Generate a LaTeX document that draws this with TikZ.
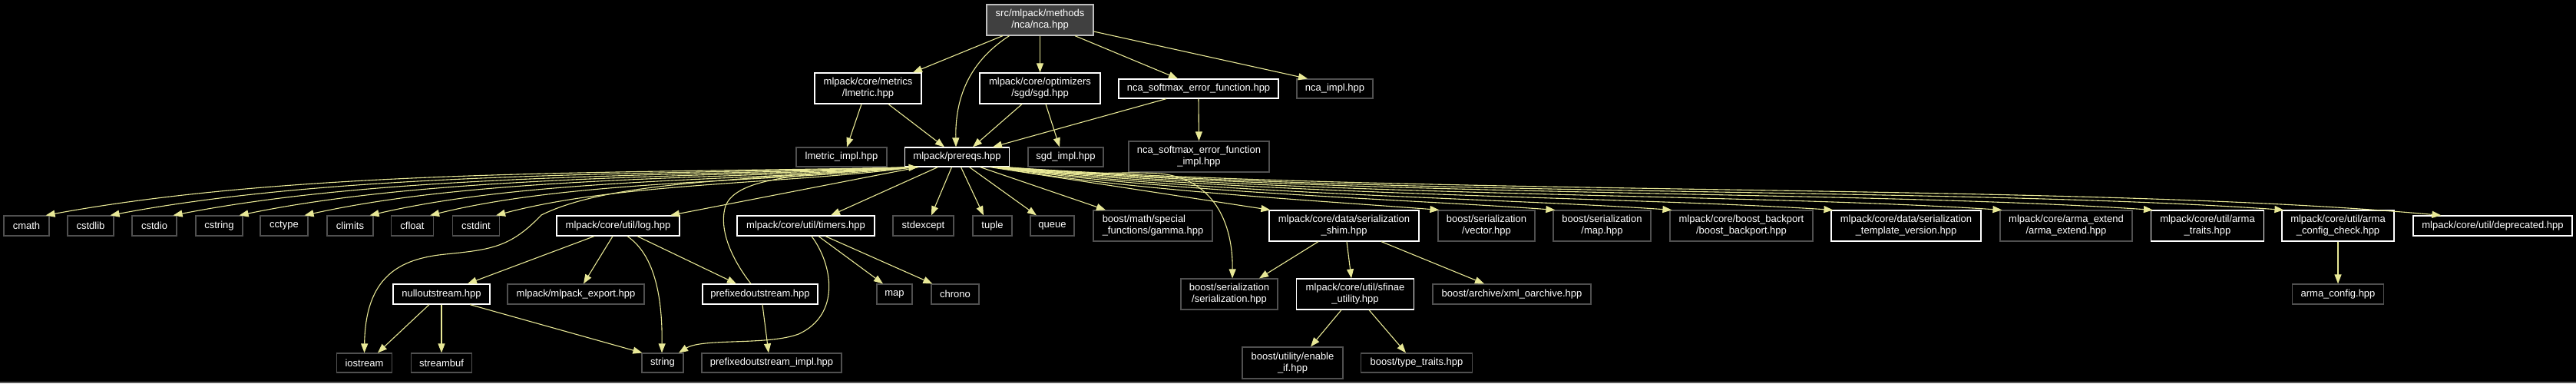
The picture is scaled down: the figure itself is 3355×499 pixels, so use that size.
\documentclass[tikz,border=0pt]{standalone}
\usepackage{fontspec}
\newfontfamily\gvfont{Liberation Sans}
\usetikzlibrary{arrows.meta}
\definecolor{edgecol}{RGB}{232,232,150}
\definecolor{boxgray}{RGB}{80,80,80}
\definecolor{rootfill}{RGB}{64,64,64}
\definecolor{rootdraw}{RGB}{190,190,190}
\definecolor{framegray}{RGB}{90,90,90}
\newcommand{\gfont}{\gvfont\fontsize{13pt}{15pt}\selectfont}
\tikzset{
  wbox/.style={draw=white, line width=1.2pt, fill=black, text=white, inner sep=0pt, font=\gfont, align=center},
  gbox/.style={wbox, draw=boxgray},
  rootbox/.style={wbox, fill=rootfill, draw=rootdraw},
  sz/.style n args={2}{minimum width=#1pt, minimum height=#2pt},
  edge/.style={draw=edgecol, line width=1.1pt, -{Triangle[length=12pt,width=9pt]}},
}
\begin{document}
\begin{tikzpicture}[x=1pt,y=-1pt]
\fill[black] (0,0) rectangle (3355,499);
\useasboundingbox (0,0) rectangle (3355,499);
\draw[framegray, line width=1.5pt] (0,498) -- (3355,498);

% row 1
\node[rootbox, sz={139}{40}] (nca) at (1354.5,26) {src/mlpack/methods\\/nca/nca.hpp};
% row 2
\node[wbox, sz={139}{40}] (lmetric) at (1130.5,115) {mlpack/core/metrics\\/lmetric.hpp};
\node[wbox, sz={157}{40}] (sgd) at (1354.5,115) {mlpack/core/optimizers\\/sgd/sgd.hpp};
\node[wbox, sz={208}{25}] (ncasef) at (1561,115.5) {nca\_softmax\_error\_function.hpp};
\node[gbox, sz={99}{25}] (ncaimpl) at (1738.5,115.5) {nca\_impl.hpp};
% row 3
\node[gbox, sz={118}{25}] (lmetricimpl) at (1096,204.5) {lmetric\_impl.hpp};
\node[wbox, sz={136}{25}] (prereqs) at (1246.5,204.5) {mlpack/prereqs.hpp};
\node[gbox, sz={98}{25}] (sgdimpl) at (1388,204.5) {sgd\_impl.hpp};
\node[gbox, sz={183}{40}] (ncasefimpl) at (1561.5,204) {nca\_softmax\_error\_function\\\_impl.hpp};
% row 4
\node[gbox, sz={59}{26}] (cmath) at (34.5,294) {cmath};
\node[gbox, sz={60}{26}] (cstdlib) at (118,294) {cstdlib};
\node[gbox, sz={58}{26}] (cstdio) at (201,294) {cstdio};
\node[gbox, sz={61}{26}] (cstring) at (285.5,294) {cstring};
\node[gbox, sz={62}{26}] (cctype) at (370,294) {cctype};
\node[gbox, sz={60}{26}] (climits) at (456,294) {climits};
\node[gbox, sz={55}{26}] (cfloat) at (537,294) {cfloat};
\node[gbox, sz={61}{26}] (cstdint) at (620,294) {cstdint};
\node[wbox, sz={160}{26}] (log) at (805,294) {mlpack/core/util/log.hpp};
\node[wbox, sz={179}{26}] (timers) at (1049.5,294) {mlpack/core/util/timers.hpp};
\node[gbox, sz={79}{26}] (stdexcept) at (1202.5,294) {stdexcept};
\node[gbox, sz={51}{26}] (tuple) at (1292.5,294) {tuple};
\node[gbox, sz={57}{26}] (queue) at (1370.5,294) {queue};
\node[gbox, sz={155}{40}, align=left] (gamma) at (1501.5,294) {boost/math/special\\\_functions/gamma.hpp};
\node[wbox, sz={195}{40}] (shim) at (1750.5,294) {mlpack/core/data/serialization\\\_shim.hpp};
\node[gbox, sz={126}{40}] (vector) at (1936,294) {boost/serialization\\/vector.hpp};
\node[gbox, sz={127}{40}] (bmap) at (2086.5,294) {boost/serialization\\/map.hpp};
\node[gbox, sz={186}{40}] (backport) at (2268,294) {mlpack/core/boost\_backport\\/boost\_backport.hpp};
\node[wbox, sz={195}{40}] (tmplver) at (2482.5,294) {mlpack/core/data/serialization\\\_template\_version.hpp};
\node[gbox, sz={172}{40}] (armaext) at (2691,294) {mlpack/core/arma\_extend\\/arma\_extend.hpp};
\node[wbox, sz={147}{40}] (armatraits) at (2875,294) {mlpack/core/util/arma\\\_traits.hpp};
\node[wbox, sz={146}{40}] (armacc) at (3045,294) {mlpack/core/util/arma\\\_config\_check.hpp};
\node[wbox, sz={207}{26}] (deprecated) at (3246.5,294) {mlpack/core/util/deprecated.hpp};
% row 5
\node[wbox, sz={126}{26}] (nullos) at (575,383) {nulloutstream.hpp};
\node[gbox, sz={178}{26}] (export) at (750,383) {mlpack/mlpack\_export.hpp};
\node[wbox, sz={150}{26}] (prefos) at (990,383) {prefixedoutstream.hpp};
\node[gbox, sz={46}{26}] (map) at (1165,383) {map};
\node[gbox, sz={62}{26}] (chrono) at (1244,383) {chrono};
\node[gbox, sz={126}{40}] (serial) at (1601,383) {boost/serialization\\/serialization.hpp};
\node[wbox, sz={153}{40}] (sfinae) at (1765,383) {mlpack/core/util/sfinae\\\_utility.hpp};
\node[gbox, sz={206}{26}] (xml) at (1969,383) {boost/archive/xml\_oarchive.hpp};
\node[gbox, sz={118.5}{26}] (armaconfig) at (3045,383) {arma\_config.hpp};
% row 6
\node[gbox, sz={72}{25}] (iostream) at (474.5,472.5) {iostream};
\node[gbox, sz={79.5}{25}] (streambuf) at (575,472.5) {streambuf};
\node[gbox, sz={54}{25}] (string) at (863,472.5) {string};
\node[gbox, sz={182}{25}] (prefimpl) at (1005,472.5) {prefixedoutstream\_impl.hpp};
\node[gbox, sz={131}{41}] (enableif) at (1683.5,472.5) {boost/utility/enable\\\_if.hpp};
\node[gbox, sz={144.5}{25}] (typetraits) at (1845,472.5) {boost/type\_traits.hpp};

% edges from nca
\draw[edge] ([xshift=-48.5pt]nca.south) -- ([xshift=58.5pt]lmetric.north);
\draw[edge] ([xshift=-40pt]nca.south) .. controls (1260,82) and (1244,130) .. ([xshift=-1.5pt]prereqs.north);
\draw[edge] (nca.south) -- (sgd.north);
\draw[edge] ([xshift=45.5pt]nca.south) -- ([xshift=-27pt]ncasef.north);
\draw[edge] ([yshift=-15pt]nca.east) -- ([xshift=-35.5pt]ncaimpl.north);
% lmetric, sgd, ncasef
\draw[edge] ([xshift=-8.5pt]lmetric.south) -- ([xshift=7pt]lmetricimpl.north);
\draw[edge] ([xshift=26.5pt]lmetric.south) -- ([xshift=-16.5pt]prereqs.north);
\draw[edge] ([xshift=-23.5pt]sgd.south) -- ([xshift=20.5pt]prereqs.north);
\draw[edge] ([xshift=7.5pt]sgd.south) -- ([xshift=-8pt]sgdimpl.north);
\draw[edge] ([xshift=-42pt]ncasef.south) -- ([xshift=46.5pt]prereqs.north);
\draw[edge] (ncasef.south) -- (ncasefimpl.north);

% prereqs to the left
\draw[edge] ([xshift=-56pt]prereqs.south) .. controls (851,226) and (398,218) .. ([xshift=-5pt]cmath.north east);
\draw[edge] ([xshift=-56pt]prereqs.south) .. controls (876,228) and (457,221) .. ([xshift=-5pt]cstdlib.north east);
\draw[edge] ([xshift=-56pt]prereqs.south) .. controls (900,230) and (514,224) .. ([xshift=-5pt]cstdio.north east);
\draw[edge] ([xshift=-56pt]prereqs.south) .. controls (926,232) and (575,226) .. ([xshift=-5pt]cstring.north east);
\draw[edge] ([xshift=-56pt]prereqs.south) .. controls (952,234) and (634,228) .. ([xshift=-5pt]cctype.north east);
\draw[edge] ([xshift=-56pt]prereqs.south) .. controls (977,236) and (694,231) .. ([xshift=-5pt]climits.north east);
\draw[edge] ([xshift=-56pt]prereqs.south) .. controls (1001,238) and (748,234) .. ([xshift=-5pt]cfloat.north east);
\draw[edge] ([xshift=-56pt]prereqs.south) .. controls (1027,240) and (809,237) .. ([xshift=-5pt]cstdint.north east);
\draw[edge] ([xshift=-60pt]prereqs.south) .. controls (950,235) and (790,238) .. (705,280)
  .. controls (665,322) and (640,325) .. (580,331)
  .. controls (520,337) and (476,360) .. (iostream.north);
\draw[edge] ([xshift=-50pt]prereqs.south) -- ([xshift=68pt]log.north);
\draw[edge] ([xshift=-25pt]prereqs.south) -- ([xshift=32.5pt]timers.north);
\draw[edge] ([xshift=-7pt]prereqs.south) -- ([xshift=10.5pt]stdexcept.north);
\draw[edge] ([xshift=5pt]prereqs.south) -- ([xshift=-11.5pt]tuple.north);
\draw[edge] ([xshift=16pt]prereqs.south) -- ([xshift=-20.5pt]queue.north);
\draw[edge] ([xshift=30pt]prereqs.south) -- ([xshift=-61.5pt]gamma.north);
\draw[edge] ([xshift=43pt]prereqs.south) -- ([xshift=2pt]shim.north west);
\draw[edge] ([xshift=55pt]prereqs.south) .. controls (1380,232) and (1450,222) .. (1510,226)
  .. controls (1580,232) and (1606,290) .. ([xshift=4pt]serial.north);
% prereqs to the right
\draw[edge] ([xshift=-20pt]prereqs.south east) .. controls (1469,248) and (1730,262) .. ([xshift=2pt]vector.north west);
\draw[edge] ([xshift=-18pt]prereqs.south east) .. controls (1514,250) and (1843,260) .. ([xshift=3pt]bmap.north west);
\draw[edge] ([xshift=-16pt]prereqs.south east) .. controls (1560,252) and (1957,258) .. ([xshift=3pt]backport.north west);
\draw[edge] ([xshift=-14pt]prereqs.south east) .. controls (1623,254) and (2115,256) .. ([xshift=3pt]tmplver.north west);
\draw[edge] ([xshift=-12pt]prereqs.south east) .. controls (1689,256) and (2280,252) .. ([xshift=3pt]armaext.north west);
\draw[edge] ([xshift=-10pt]prereqs.south east) .. controls (1748,256) and (2427,248) .. ([xshift=3pt]armatraits.north west);
\draw[edge] ([xshift=-8pt]prereqs.south east) .. controls (1799,256) and (2555,244) .. ([xshift=3pt]armacc.north west);
\draw[edge] ([xshift=-6pt]prereqs.south east) .. controls (1860,256) and (2709,238) .. ([xshift=37pt]deprecated.north west);

% log
\draw[edge] ([xshift=-31pt]log.south) -- ([xshift=34pt]nullos.north);
\draw[edge] ([xshift=-7pt]log.south) -- ([xshift=10pt]export.north);
\draw[edge] ([xshift=12pt]log.south) .. controls (850,330) and (863,380) .. ([xshift=-1pt]string.north);
\draw[edge] ([xshift=25pt]log.south) -- ([xshift=-31pt]prefos.north);
% timers
\draw[edge] ([xshift=7.5pt]timers.south) .. controls (1085,345) and (1095,410) .. (1040,435)
  .. controls (1000,450) and (915,440) .. ([xshift=21pt]string.north);
\draw[edge] ([xshift=16.5pt]timers.south) -- ([xshift=-15pt]map.north);
\draw[edge] ([xshift=25.5pt]timers.south) -- ([xshift=2pt]chrono.north west);
% nulloutstream
\draw[edge] ([xshift=-16pt]nullos.south) -- ([xshift=17.5pt]iostream.north);
\draw[edge] (nullos.south) -- (streambuf.north);
\draw[edge] ([xshift=37pt]nullos.south) -- ([xshift=1pt]string.north west);
% prefixedoutstream
\draw[edge] ([xshift=3pt]prefos.south) -- ([xshift=-4pt]prefimpl.north);
\draw[edge] ([xshift=-12pt]prefos.north) .. controls (955,340) and (935,300) .. (945,268)
  .. controls (960,230) and (1050,226) .. ([xshift=-51pt]prereqs.south);
% shim
\draw[edge] ([xshift=-33.5pt]shim.south) -- ([xshift=39pt]serial.north);
\draw[edge] ([xshift=3.5pt]shim.south) -- ([xshift=-5pt]sfinae.north);
\draw[edge] ([xshift=48.5pt]shim.south) -- ([xshift=-36pt]xml.north);
% sfinae
\draw[edge] ([xshift=-18pt]sfinae.south) -- ([xshift=23.5pt]enableif.north);
\draw[edge] ([xshift=18pt]sfinae.south) -- ([xshift=-14pt]typetraits.north);
% arma config check
\draw[edge] (armacc.south) -- (armaconfig.north);
\end{tikzpicture}
\end{document}
